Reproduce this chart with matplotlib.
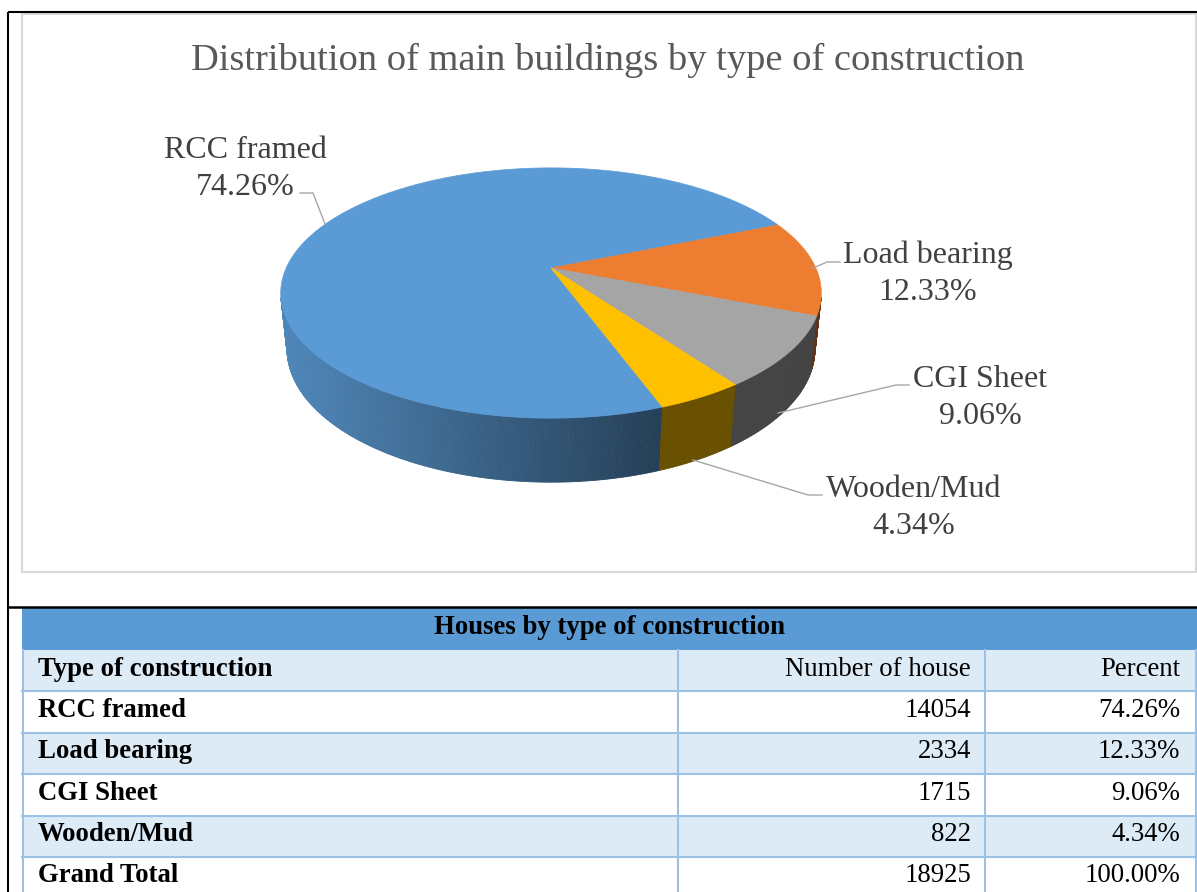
import numpy as np
import matplotlib
matplotlib.use('Agg')
import matplotlib.pyplot as plt
from matplotlib.patches import Polygon, Rectangle

plt.rcParams['font.family'] = ['Liberation Serif', 'DejaVu Serif']

# data
names = ['RCC framed', 'Load bearing', 'CGI Sheet', 'Wooden/Mud']
houses = [14054, 2334, 1715, 822]
total = sum(houses)
percents = [100.0 * h / total for h in houses]

title = 'Distribution of main buildings by type of construction'
table_title = 'Houses by type of construction'
table_cols = ['Type of construction', 'Number of house', 'Percent']

slice_colors = ['#5B9BD5', '#ED7D31', '#A5A5A5', '#FFC000']
label_color = '#404040'
leader_color = '#A6A6A6'

fig = plt.figure(figsize=(11.97, 8.92), dpi=100)
ax = fig.add_axes([0, 0, 1, 1])
ax.set_xlim(0, 1197)
ax.set_ylim(892, 0)
ax.axis('off')

# frame lines
ax.plot([8, 1197], [12, 12], color='black', lw=1.5, solid_capstyle='butt')
ax.plot([8, 8], [12, 892], color='black', lw=1.5, solid_capstyle='butt')
ax.plot([8, 1197], [607, 607], color='black', lw=1.8, solid_capstyle='butt')
ax.add_patch(Rectangle((22, 14), 1174, 558, fill=False, edgecolor='#D9D9D9', lw=1.5))

ax.text(608, 70, title, ha='center', va='baseline', fontsize=27.7, color='#595959')

# ---- 3D pie with a simple perspective camera ----
cx, cy = 551, 268
phi = np.radians(26.4)
s, c = np.sin(phi), np.cos(phi)
D = 5 * c
Fx, Fy = 1186, 1210
h = 0.232
first_angle = 160


def project(xd, yd, z):
    depth = D + yd * c - z * s
    ys = yd * s + z * c
    return cx + Fx * xd / depth, cy - Fy * ys / depth


def shade(hexcol, f):
    rgb = np.array(matplotlib.colors.to_rgb(hexcol))
    return tuple(rgb * f)


bounds = first_angle + 3.6 * np.concatenate([[0], np.cumsum(percents)])

# side wall
step = 0.5
for i in range(len(names)):
    a0, a1 = bounds[i], bounds[i + 1]
    for a in np.arange(a0, a1, step):
        b = min(a + step, a1)
        am = np.radians((a + b) / 2)
        if np.cos(am) > -1 / (D * c) + 0.02:
            continue
        ra, rb = np.radians(a), np.radians(b)
        p1 = project(np.sin(ra), np.cos(ra), 0)
        p2 = project(np.sin(rb), np.cos(rb), 0)
        p3 = project(np.sin(rb), np.cos(rb), -h)
        p4 = project(np.sin(ra), np.cos(ra), -h)
        xm = (p1[0] + p2[0]) / 2
        t = np.clip((xm - 281) / (660 - 281), 0, 1)
        col = shade(slice_colors[i], 0.87 - 0.46 * t)
        ax.add_patch(Polygon([p1, p2, p3, p4], closed=True, facecolor=col,
                             edgecolor=col, lw=0.6, zorder=2))

# top face
for i in range(len(names)):
    aa = np.radians(np.linspace(bounds[i], bounds[i + 1], 200))
    pts = [project(0, 0, 0)] + [project(np.sin(a), np.cos(a), 0) for a in aa]
    ax.add_patch(Polygon(pts, closed=True, facecolor=slice_colors[i],
                         edgecolor=slice_colors[i], lw=0.5, zorder=3))

# data labels and leader lines
label_pos = [(245, 158), (928, 263), (980, 387), (914, 497)]
leaders = [
    [(300, 193), (313, 193), (325, 224)],
    [(840, 262), (827, 262), (813, 268)],
    [(909, 385), (896, 385), (778, 413)],
    [(822, 495), (808, 495), (693, 460)],
]
for name, pct, (lx, ly), ld in zip(names, percents, label_pos, leaders):
    ax.text(lx, ly, name, ha='center', va='baseline', fontsize=23, color=label_color)
    ax.text(lx, ly + 37, f'{pct:.2f}%', ha='center', va='baseline', fontsize=23,
            color=label_color)
    xs, ys = zip(*ld)
    ax.plot(xs, ys, color=leader_color, lw=1, zorder=4)

# ---- table ----
col_x = [22, 678, 985, 1197]
band_top, band_bot = 608, 650
row_h = 41.4
grid = '#9BC2E6'
light = '#DDEBF7'

ax.add_patch(Rectangle((22, band_top), 1175, band_bot - band_top, facecolor='#5B9BD5',
                       edgecolor='none', zorder=1))
ax.text(609, band_top + 26, table_title, ha='center', va='baseline', fontsize=19.3,
        fontweight='bold', color='black')

rows = [(n, str(v), f'{p:.2f}%') for n, v, p in zip(names, houses, percents)]
rows.append(('Grand Total', str(total), f'{sum(percents):.2f}%'))
all_rows = [tuple(table_cols)] + rows

for r, row in enumerate(all_rows):
    top = band_bot + r * row_h
    fill = light if r % 2 == 0 else 'white'
    ax.add_patch(Rectangle((22, top), 1175, row_h, facecolor=fill, edgecolor='none', zorder=1))
    base = top + 25.5
    ax.text(col_x[0] + 16, base, row[0], ha='left', va='baseline', fontsize=19.3,
            fontweight='bold', color='black', zorder=3)
    ax.text(col_x[2] - 14, base, row[1], ha='right', va='baseline', fontsize=19.3,
            color='black', zorder=3)
    ax.text(col_x[3] - 17, base, row[2], ha='right', va='baseline', fontsize=19.3,
            color='black', zorder=3)
    ax.plot([22, 1197], [top + row_h, top + row_h], color=grid, lw=1.5, zorder=2)

tbl_bot = band_bot + len(all_rows) * row_h
for x in [23, col_x[1], col_x[2], 1196]:
    ax.plot([x, x], [band_bot, tbl_bot], color=grid, lw=1.5, zorder=2)

fig.savefig('out.png', dpi=100)
